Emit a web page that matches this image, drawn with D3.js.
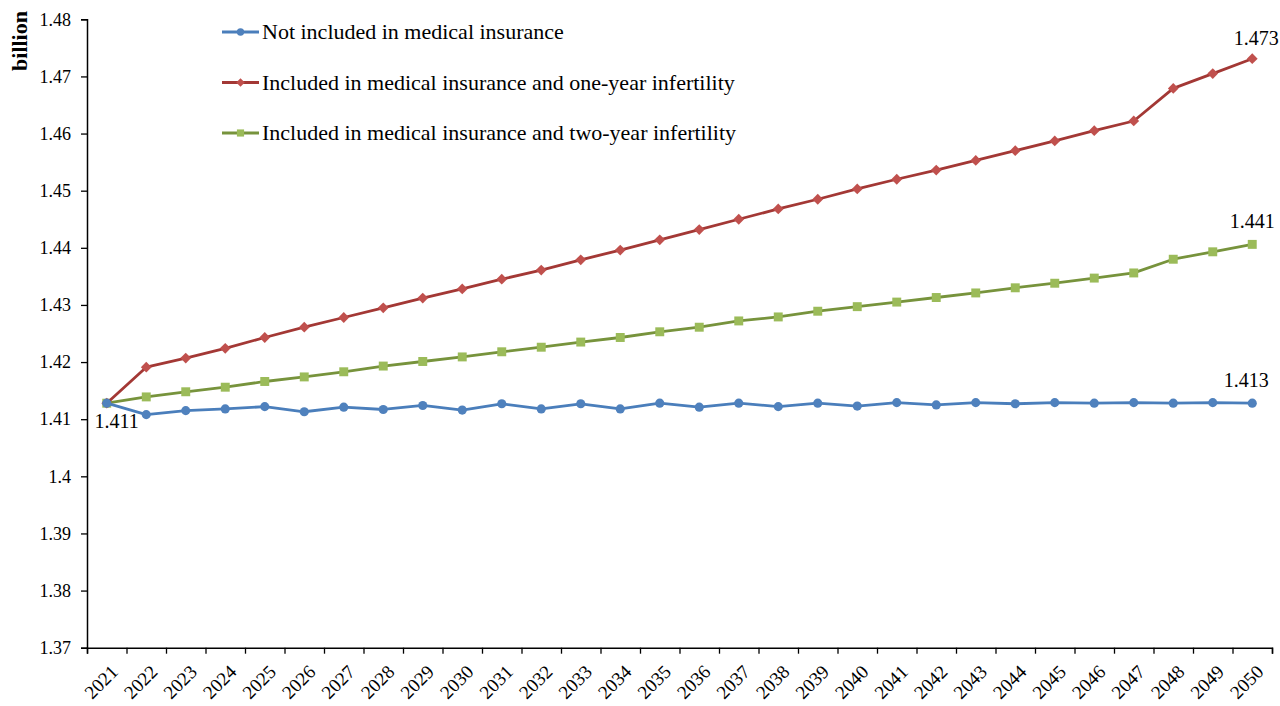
<!DOCTYPE html>
<html>
<head>
<meta charset="utf-8">
<script src="https://cdn.jsdelivr.net/npm/d3@7"></script>
<style>
  body { margin: 0; background: #fff; }
  svg text { font-family: "Liberation Serif", "Times New Roman", Times, "DejaVu Serif", serif !important; fill: #000; }
</style>
</head>
<body>
<svg id="canvas"></svg>
<script>
let width = 1280;
let height = 706;

let plotLeft = 87;
let plotRight = 1272;
let plotTop = 19.3;
let plotBottom = 647.7;

const years = d3.range(2021, 2051);

const seriesNames = [
    'Not included in medical insurance',
    'Included in medical insurance and one-year infertility',
    'Included in medical insurance and two-year infertility',
];

const notIncluded = [
    1.4128, 1.4108, 1.4115, 1.4118, 1.4122, 1.4113, 1.4121, 1.4117, 1.4124, 1.4116,
    1.4127, 1.4118, 1.4127, 1.4118, 1.4128, 1.4121, 1.4128, 1.4122, 1.4128, 1.4123,
    1.4129, 1.4125, 1.4129, 1.4127, 1.4129, 1.4128, 1.4129, 1.4128, 1.4129, 1.4128,
];

const oneYear = [
    1.4128, 1.4191, 1.4207, 1.4224, 1.4243, 1.4261, 1.4278, 1.4295, 1.4312, 1.4328,
    1.4345, 1.4361, 1.4379, 1.4396, 1.4414, 1.4432, 1.4450, 1.4468, 1.4485, 1.4503,
    1.4520, 1.4536, 1.4553, 1.4570, 1.4587, 1.4605, 1.4622, 1.4679, 1.4705, 1.4731,
];

const twoYear = [
    1.4128, 1.4139, 1.4148, 1.4156, 1.4166, 1.4174, 1.4183, 1.4193, 1.4201, 1.4209,
    1.4218, 1.4226, 1.4235, 1.4243, 1.4253, 1.4261, 1.4272, 1.4279, 1.4289, 1.4297,
    1.4305, 1.4313, 1.4321, 1.4330, 1.4338, 1.4347, 1.4356, 1.4380, 1.4393, 1.4406,
];

const yTicks = [1.37, 1.38, 1.39, 1.40, 1.41, 1.42, 1.43, 1.44, 1.45, 1.46, 1.47, 1.48];
const yTickLabels = ['1.37', '1.38', '1.39', '1.4', '1.41', '1.42', '1.43', '1.44', '1.45', '1.46', '1.47', '1.48'];

const endLabels = [
    { series: 0, index: 0, text: '1.411', dx: 10, dy: 25 },
    { series: 0, index: 29, text: '1.413', dx: -6, dy: -16 },
    { series: 1, index: 29, text: '1.473', dx: 4, dy: -14 },
    { series: 2, index: 29, text: '1.441', dx: 0, dy: -16 },
];

const styles = [
    { line: '#4A7EBB', fill: '#4F81BD', shape: 'circle' },
    { line: '#A33835', fill: '#C0504D', shape: 'diamond' },
    { line: '#77933C', fill: '#9BBB59', shape: 'square' },
];

let allSeries = [notIncluded, oneYear, twoYear];

let canvas = d3.select('#canvas').attr('width', width).attr('height', height);

let xScale = d3.scaleBand().domain(years).range([plotLeft, plotRight]).padding(0);
let xBound = d3.scaleLinear().domain([0, years.length]).range([plotLeft, plotRight]);
let yScale = d3.scaleLinear().domain([1.37, 1.48]).range([plotBottom, plotTop]);

let symbolFor = (shape) => {
    if (shape === 'circle') return d3.symbol(d3.symbolCircle, 66)();
    if (shape === 'diamond') return d3.symbol(d3.symbolSquare, 58)();
    return d3.symbol(d3.symbolSquare, 80)();
};

let markerTransform = (shape) => (shape === 'diamond' ? 'rotate(45)' : '');

// axes
let yAxis = d3.axisLeft(yScale).tickValues(yTicks).tickSize(6).tickFormat((d, i) => yTickLabels[i]);
let gy = canvas.append('g').attr('transform', `translate(${plotLeft}, 0)`).call(yAxis);
gy.select('.domain').attr('stroke', '#000').attr('stroke-width', 1.5);
gy.selectAll('.tick line').attr('stroke', '#000').attr('stroke-width', 1.3);
gy.selectAll('.tick text').attr('font-size', 18).attr('x', -16);

let xAxis = d3.axisBottom(xBound).tickValues(d3.range(years.length + 1)).tickSize(6).tickFormat('');
let gx = canvas.append('g').attr('transform', `translate(0, ${plotBottom})`).call(xAxis);
gx.select('.domain').attr('stroke', '#000').attr('stroke-width', 1.5);
gx.selectAll('.tick line').attr('stroke', '#000').attr('stroke-width', 1.3);

canvas
    .append('g')
    .selectAll('text')
    .data(years)
    .enter()
    .append('text')
    .attr('transform', (d) => `translate(${xScale(d) + xScale.bandwidth() / 2 + 3}, ${plotBottom + 16}) rotate(-45)`)
    .attr('text-anchor', 'end')
    .attr('dy', '0.7em')
    .attr('font-size', 19)
    .text((d) => d);

canvas
    .append('text')
    .attr('transform', `translate(27, 41) rotate(-90)`)
    .attr('text-anchor', 'middle')
    .attr('font-size', 22)
    .attr('font-weight', 'bold')
    .text('billion');

// lines
let line = d3
    .line()
    .x((d, i) => xScale(years[i]) + xScale.bandwidth() / 2)
    .y((d) => yScale(d));

// draw series so that the first one ends on top, like the original
[2, 1, 0].forEach((s) => {
    let g = canvas.append('g');
    g.append('path')
        .datum(allSeries[s])
        .attr('fill', 'none')
        .attr('stroke', styles[s].line)
        .attr('stroke-width', 2.8)
        .attr('stroke-linejoin', 'round')
        .attr('d', line);
    g.selectAll('path.marker')
        .data(allSeries[s])
        .enter()
        .append('path')
        .attr('class', 'marker')
        .attr('fill', styles[s].fill)
        .attr('d', symbolFor(styles[s].shape))
        .attr('transform', (d, i) =>
            `translate(${xScale(years[i]) + xScale.bandwidth() / 2}, ${yScale(d)}) ${markerTransform(styles[s].shape)}`);
});

// value labels
canvas
    .append('g')
    .selectAll('text')
    .data(endLabels)
    .enter()
    .append('text')
    .attr('x', (d) => xScale(years[d.index]) + xScale.bandwidth() / 2 + d.dx)
    .attr('y', (d) => yScale(allSeries[d.series][d.index]) + d.dy)
    .attr('text-anchor', 'middle')
    .attr('font-size', 20)
    .text((d) => d.text);

// legend
let legend = canvas.append('g').attr('transform', 'translate(222, 32)');
seriesNames.forEach((name, i) => {
    let row = legend.append('g').attr('transform', `translate(0, ${i * 50.5})`);
    row.append('line')
        .attr('x1', 0)
        .attr('x2', 37)
        .attr('stroke', styles[i].line)
        .attr('stroke-width', 2.8);
    row.append('path')
        .attr('d', symbolFor(styles[i].shape))
        .attr('transform', `translate(18.5, 0) scale(0.8) ${markerTransform(styles[i].shape)}`)
        .attr('fill', styles[i].fill);
    row.append('text')
        .attr('x', 40)
        .attr('dy', '0.33em')
        .attr('font-size', 22)
        .text(name);
});
</script>
</body>
</html>
